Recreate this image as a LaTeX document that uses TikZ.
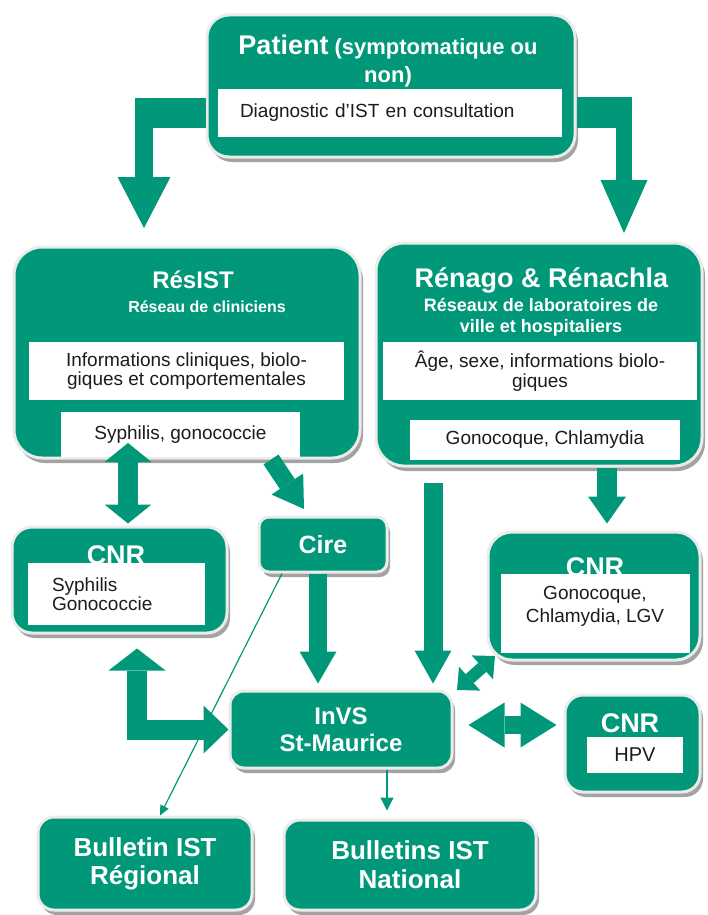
\documentclass[tikz,border=0pt]{standalone}
\usepackage{fontspec}
\setmainfont{Liberation Sans}
\usepackage{tikz}
\usetikzlibrary{positioning}
\usetikzlibrary{calc}
\usetikzlibrary{arrows.meta}
\usetikzlibrary{shadows}
\definecolor{invsgreen}{RGB}{0,152,121}
\definecolor{boxtext}{RGB}{28,28,28}
\newcommand{\fs}[2]{\fontsize{#1}{#2}\selectfont}

\begin{document}
\begin{tikzpicture}[
    x=1pt, y=-1pt,
    box/.style={
        fill=invsgreen, draw=black!8, line width=3pt, inner sep=0pt,
        rounded corners=20pt, text=white, align=center,
        font=\bfseries\fs{25}{27},
        drop shadow={shadow xshift=3pt, shadow yshift=-5pt, fill=black!45, opacity=0.8}
    },
    wbox/.style={fill=white, inner sep=0pt, text=boxtext, align=center, font=\fs{19}{19.5}},
    title/.style={text=white, inner sep=0pt, align=center, font=\bfseries\fs{27}{28}},
    flow/.style={draw=invsgreen, line width=18pt, line join=miter},
    thin arrow/.style={draw=invsgreen, line width=1.2pt, -{Triangle[width=13pt,length=13pt]}}
]
    \useasboundingbox (0,0) rectangle (707,915);

    % Green boxes
    \node[box, minimum width=368pt, minimum height=142pt, rounded corners=22pt] (patient) at (391,86) {};
    \node[box, minimum width=346pt, minimum height=211pt, rounded corners=28pt] (resist) at (187,352.5) {};
    \node[box, minimum width=326pt, minimum height=223pt, rounded corners=28pt] (renago) at (539,354.5) {};
    \node[box, minimum width=215pt, minimum height=106pt] (cnrL) at (119.5,580) {};
    \node[box, minimum width=128pt, minimum height=55pt, rounded corners=10pt] (cire) at (323,544.5) {Cire};
    \node[box, minimum width=222pt, minimum height=77pt, rounded corners=14pt, font=\bfseries\fs{24}{27}] (invs) at (341,729.5) {InVS\\St-Maurice};
    \node[box, minimum width=212pt, minimum height=128pt, rounded corners=24pt] (cnrR) at (594,596) {};
    \node[box, minimum width=135pt, minimum height=97pt, rounded corners=18pt] (cnrH) at (632.5,743.5) {};
    \node[box, minimum width=214pt, minimum height=93pt, rounded corners=16pt, font=\bfseries\fs{26}{28}] (bullR) at (145,863.5) {Bulletin IST\\Régional};
    \node[box, minimum width=252pt, minimum height=90pt, rounded corners=16pt, font=\bfseries\fs{26}{29}] (bullN) at (410,865) {Bulletins IST\\National};

    % Titles
    \node[title, font=\bfseries\fs{22}{28}] (patientT) at (388,61) {{\fs{27}{28}Patient} (symptomatique ou\\non)};
    \node[title, font=\bfseries\fs{24}{26}] (resistT) at (193,280) {RésIST};
    \node[title, font=\bfseries\fs{16}{18}] (resistS) at (207,307) {Réseau de cliniciens};
    \node[title] (renagoT) at (541.5,280) {Rénago \& Rénachla};
    \node[title, font=\bfseries\fs{18}{21}] (renagoS) at (541,317.5) {Réseaux de laboratoires de\\ville et hospitaliers};
    \node[title] (cnrLT) at (116,555) {CNR};
    \node[title] (cnrRT) at (595,567) {CNR};
    \node[title] (cnrHT) at (630,723) {CNR};

    % White boxes
    \node[wbox, minimum width=344pt, minimum height=48pt, inner xsep=22pt, text width=300pt, align=left] (patientD) at (390,113) {Diagnostic d\char"27 IST en consultation};
    \node[wbox, minimum width=315pt, minimum height=58pt] (resistI) at (186.5,371) {Informations cliniques, biolo-\\giques et comportementales};
    \node[wbox, minimum width=239pt, minimum height=45pt] (resistG) at (180.5,434.5) {Syphilis, gonococcie};
    \node[wbox, minimum width=314pt, minimum height=58pt] (renagoI) at (540,371) {Âge, sexe, informations biolo-\\giques};
    \node[wbox, minimum width=270pt, minimum height=40pt] (renagoG) at (545,440) {Gonocoque, Chlamydia};
    \node[wbox, minimum width=177pt, minimum height=62pt, inner xsep=24pt, text width=129pt, align=left] (cnrLW) at (116.5,594) {Syphilis\\Gonococcie};
    \node[wbox, minimum width=189pt, minimum height=79pt] (cnrRW) at (595.5,613.5) {};
    \node[wbox, font=\fs{19}{23}] (cnrRX) at (595,606.5) {Gonocoque,\\Chlamydia, LGV};
    \node[wbox, minimum width=96pt, minimum height=36pt, font=\fs{20}{20}] (cnrHW) at (635,755) {HPV};

    % Free ends
    \coordinate (pl) at (144,228);
    \coordinate (pr) at (624,233);
    \coordinate (rl) at (128,443);
    \coordinate (dg) at (304,509);
    \coordinate (rv) at (433,483);
    \coordinate (dd1) at (457,690);
    \coordinate (dd2) at (495,656);

    % Patient to networks
    \draw[flow, line width=30pt] (patient.west |- 0,113) -- (135,113);
    \draw[flow, -{Triangle[width=53pt,length=51pt,line width=0pt]}] (144,98) -- (pl);
    \draw[flow, line width=31pt] (patient.east |- 0,112.5) -- (632,112.5);
    \draw[flow, line width=16pt, -{Triangle[width=47pt,length=53pt,line width=0pt]}] (624,97) -- (pr);

    % Networks to CNR, Cire, InVS
    \draw[flow, line width=20pt, {Triangle[width=47pt,length=19pt,line width=0pt]}-{Triangle[width=47pt,length=19pt,line width=0pt]}, shorten >=2pt] (rl) -- (cnrL.north -| 128,0);
    \draw[flow, -{Triangle[width=38pt,length=30pt,line width=0pt]}] (resist.south -| 271,0) -- (dg);
    \draw[flow, -{Triangle[width=37pt,length=32pt,line width=0pt]}, shorten >=6pt] (cire.south -| 318,0) -- (invs.north -| 318,0);
    \draw[flow, line width=19pt, -{Triangle[width=37pt,length=33pt,line width=0pt]}, shorten >=6pt] (rv) -- (invs.north -| 433,0);
    \draw[flow, line width=20pt, -{Triangle[width=38pt,length=27pt,line width=0pt]}, shorten >=7pt] (renago.south -| 607,0) -- (cnrR.north -| 607,0);

    % Exchanges with InVS
    \draw[flow, line width=12pt, {Triangle[width=32pt,length=17pt,line width=0pt]}-{Triangle[width=32pt,length=17pt,line width=0pt]}] (dd1) -- (dd2);
    \draw[flow, {Triangle[width=45pt,length=36pt,line width=0pt]}-{Triangle[width=45pt,length=36pt,line width=0pt]}, shorten <=15pt, shorten >=7pt] (invs.east |- 0,725) -- (cnrH.west |- 0,725);
    \draw[flow, line width=20pt, {Triangle[width=57pt,length=22pt,line width=0pt]}-{Triangle[width=48pt,length=25pt,line width=0pt]}, shorten <=14pt] (cnrL.south -| 137,0) |- (invs.west);

    % Bulletins
    \draw[thin arrow, shorten >=8pt] (invs.south -| 387,0) -- (bullN.north -| 387,0);
    \draw[thin arrow, -{Triangle[width=9pt,length=10pt]}] (cire.south -| 282,0) -- (bullR.north -| 160,0);

\end{tikzpicture}
\end{document}
